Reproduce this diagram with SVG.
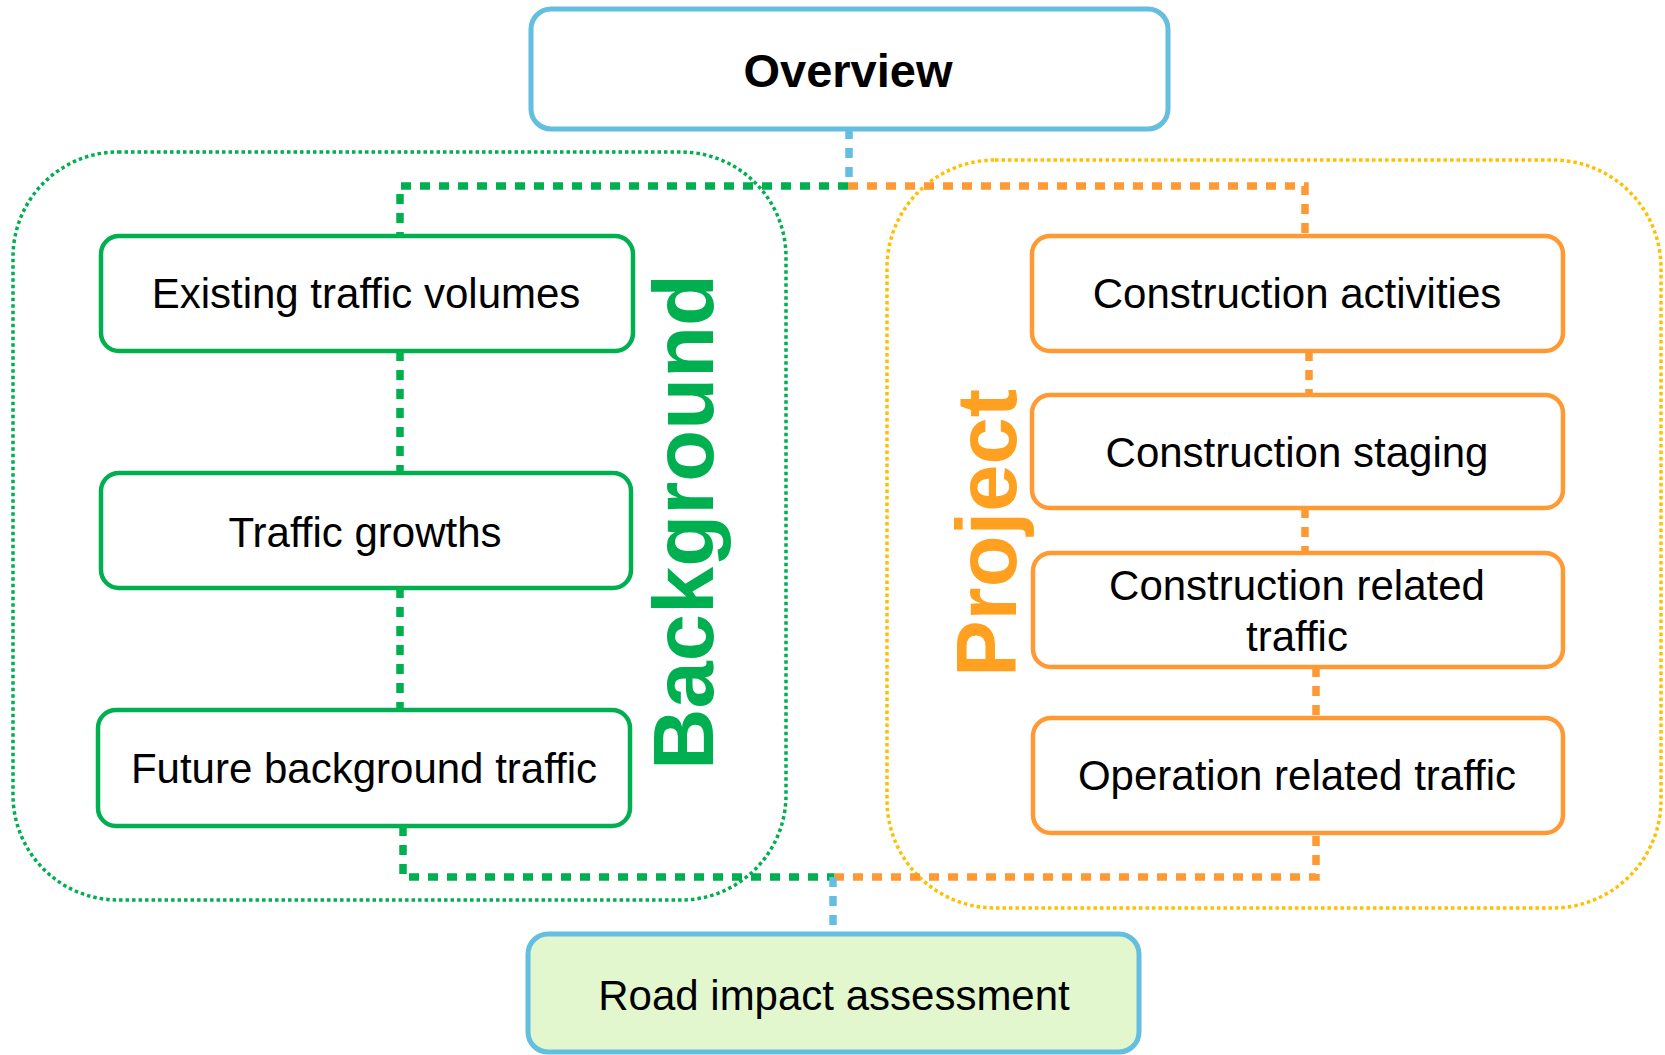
<svg xmlns="http://www.w3.org/2000/svg" width="1665" height="1055" viewBox="0 0 1665 1055">
  <style>
    .label { font-family: "Liberation Sans", Arial, sans-serif; font-size: 42px; fill: #000; text-anchor: middle; }
    .title { font-family: "Liberation Sans", Arial, sans-serif; font-size: 47px; font-weight: bold; fill: #000; text-anchor: middle; }
    .side { font-family: "Liberation Sans", Arial, sans-serif; font-size: 85px; font-weight: bold; text-anchor: middle; }
    .box-blue { fill: #fff; stroke: #63BEDF; stroke-width: 5; }
    .box-green { fill: #fff; stroke: #00B050; stroke-width: 4.5; }
    .box-orange { fill: #fff; stroke: #FF9933; stroke-width: 4.5; }
    .group { fill: none; stroke-width: 3.5; stroke-dasharray: 3.5 3; }
    .link { fill: none; stroke-width: 7.5; stroke-dasharray: 10 9; }
    .g { stroke: #00B050; }
    .o { stroke: #FF9933; }
    .b { stroke: #63BEDF; }
  </style>

  <!-- dotted group outlines -->
  <g id="group-background">
    <rect class="group" x="13" y="152" width="773" height="748" rx="105" ry="105" stroke="#00B050"/>
    <text class="side" fill="#00B050" transform="translate(713 522) rotate(-90)">Background</text>
  </g>
  <g id="group-project">
    <rect class="group" x="887" y="160" width="774" height="748" rx="108" ry="108" stroke="#FFC000"/>
    <text class="side" fill="#FFA021" transform="translate(1016 533) rotate(-90)">Project</text>
  </g>

  <!-- connectors -->
  <g id="connectors">
    <path class="link b" d="M849 129 V186"/>
    <path class="link g" d="M848 186 H400 V236"/>
    <path class="link o" d="M848 186 H1305 V236"/>
    <path class="link g" d="M400 351 V473"/>
    <path class="link g" d="M400 588 V710"/>
    <path class="link g" d="M403 826 V877 H834"/>
    <path class="link o" d="M1309 351 V395"/>
    <path class="link o" d="M1305 508 V553"/>
    <path class="link o" d="M1316 667 V718"/>
    <path class="link o" d="M834 877 H1316 V833"/>
    <path class="link b" d="M833 877 V933"/>
  </g>

  <!-- nodes -->
  <g id="overview">
    <rect class="box-blue" x="531" y="9" width="637" height="120" rx="20" ry="20"/>
    <text class="title" x="848" y="87">Overview</text>
  </g>
  <g id="existing-traffic-volumes">
    <rect class="box-green" x="101" y="236" width="532" height="115" rx="18" ry="18"/>
    <text class="label" x="366" y="308">Existing traffic volumes</text>
  </g>
  <g id="traffic-growths">
    <rect class="box-green" x="101" y="473" width="530" height="115" rx="18" ry="18"/>
    <text class="label" x="365" y="547">Traffic growths</text>
  </g>
  <g id="future-background-traffic">
    <rect class="box-green" x="98" y="710" width="532" height="116" rx="18" ry="18"/>
    <text class="label" x="364" y="783">Future background traffic</text>
  </g>
  <g id="construction-activities">
    <rect class="box-orange" x="1032" y="236" width="531" height="115" rx="18" ry="18"/>
    <text class="label" x="1297" y="308">Construction activities</text>
  </g>
  <g id="construction-staging">
    <rect class="box-orange" x="1032" y="395" width="531" height="113" rx="18" ry="18"/>
    <text class="label" x="1297" y="467">Construction staging</text>
  </g>
  <g id="construction-related-traffic">
    <rect class="box-orange" x="1033" y="553" width="530" height="114" rx="18" ry="18"/>
    <text class="label" x="1297" y="600">Construction related</text>
    <text class="label" x="1297" y="651">traffic</text>
  </g>
  <g id="operation-related-traffic">
    <rect class="box-orange" x="1033" y="718" width="530" height="115" rx="18" ry="18"/>
    <text class="label" x="1297" y="790">Operation related traffic</text>
  </g>
  <g id="road-impact-assessment">
    <rect class="box-blue" x="528" y="934" width="611" height="118" rx="20" ry="20" style="fill:#E2F7CE"/>
    <text class="label" x="834" y="1010">Road impact assessment</text>
  </g>
</svg>
